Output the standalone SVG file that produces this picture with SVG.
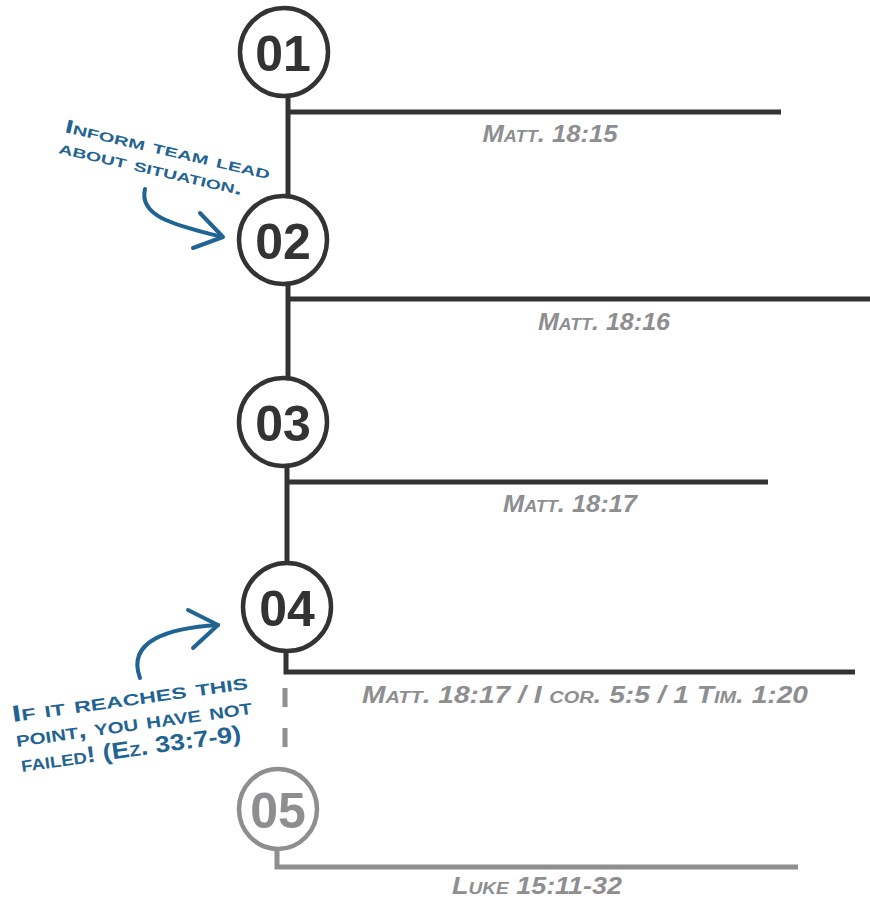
<svg xmlns="http://www.w3.org/2000/svg" width="870" height="899" viewBox="0 0 870 899">
<style>
.dk{stroke:#333333;fill:none;stroke-width:5;stroke-linecap:butt}
.gr{stroke:#8e8e90;fill:none;stroke-width:5}
.ring{fill:#ffffff;stroke:#333333;stroke-width:4.5}
.ring5{fill:#ffffff;stroke:#8e8e90;stroke-width:4.5}
.num{font-family:"Liberation Sans",Arial,sans-serif;font-weight:bold;font-size:50px;fill:#333333;text-anchor:middle}
.num5{fill:#8e8e90}
.ref{font-family:"Liberation Sans",Arial,sans-serif;font-weight:bold;font-style:italic;font-variant:small-caps;font-size:24px;fill:#8e8e90;text-anchor:middle}
.note{font-family:"Liberation Sans",Arial,sans-serif;font-weight:bold;font-variant:small-caps;fill:#1f6492}
.arr{stroke:#1f6492;fill:none;stroke-width:4;stroke-linecap:round;stroke-linejoin:round}
</style>
<rect width="870" height="899" fill="#ffffff"/>
<g id="connectors">
<line class="dk" x1="288" y1="96" x2="288" y2="196"/>
<line class="dk" x1="288" y1="112" x2="781" y2="112"/>
<line class="dk" x1="288" y1="284" x2="288" y2="378"/>
<line class="dk" x1="288" y1="299" x2="870" y2="299"/>
<line class="dk" x1="287" y1="466" x2="287" y2="564"/>
<line class="dk" x1="287" y1="482" x2="768" y2="482"/>
<polyline class="dk" points="286,650 286,672 855,672"/>
<line class="gr" x1="285" y1="688" x2="285" y2="760" stroke-dasharray="19 21"/>
<polyline class="gr" points="277,848 277,867 798,867"/>
<path class="arr" d="M145,189 C138,218 180,226 222,237"/>
<path class="arr" d="M200,213 L223,237 L193,248"/>
<path class="arr" d="M140,678 C126,640 170,628 218,625"/>
<path class="arr" d="M188,610 L218,625 L193,648"/>
</g>
<g id="n1"><circle class="ring" cx="284" cy="52" r="44"/><text class="num" x="283" y="71">01</text></g>
<g id="n2"><circle class="ring" cx="283" cy="240" r="44"/><text class="num" x="283" y="259">02</text></g>
<g id="n3"><circle class="ring" cx="283" cy="422" r="44"/><text class="num" x="283" y="441">03</text></g>
<g id="n4"><circle class="ring" cx="287" cy="607" r="44"/><text class="num" x="287" y="626">04</text></g>
<g id="n5"><ellipse class="ring5" cx="278" cy="809" rx="39" ry="40"/><text class="num num5" x="278" y="828">05</text></g>
<g id="labels">
<text class="ref" x="550" y="142" textLength="135" lengthAdjust="spacingAndGlyphs">Matt. 18:15</text>
<text class="ref" x="604" y="330" textLength="132" lengthAdjust="spacingAndGlyphs">Matt. 18:16</text>
<text class="ref" x="570" y="512" textLength="134" lengthAdjust="spacingAndGlyphs">Matt. 18:17</text>
<text class="ref" x="585" y="703" textLength="446" lengthAdjust="spacingAndGlyphs">Matt. 18:17 / I cor. 5:5 / 1 Tim. 1:20</text>
<text class="ref" x="537" y="894" font-size="22" textLength="170" lengthAdjust="spacingAndGlyphs">Luke 15:11-32</text>
</g>
<g id="note1">
<text class="note" font-size="19" transform="translate(64,132) rotate(13)" textLength="210" lengthAdjust="spacingAndGlyphs">Inform team lead</text>
<text class="note" font-size="19" transform="translate(58,153) rotate(13)" textLength="188" lengthAdjust="spacingAndGlyphs">about situation.</text>
</g>
<g id="note2">
<text class="note" font-size="23" transform="translate(13,722) rotate(-8)" textLength="238" lengthAdjust="spacingAndGlyphs">If it reaches this</text>
<text class="note" font-size="23" transform="translate(17,747) rotate(-8)" textLength="238" lengthAdjust="spacingAndGlyphs">point, you have not</text>
<text class="note" font-size="23" transform="translate(22,772) rotate(-8)" textLength="222" lengthAdjust="spacingAndGlyphs">failed! (Ez. 33:7-9)</text>
</g>
</svg>
